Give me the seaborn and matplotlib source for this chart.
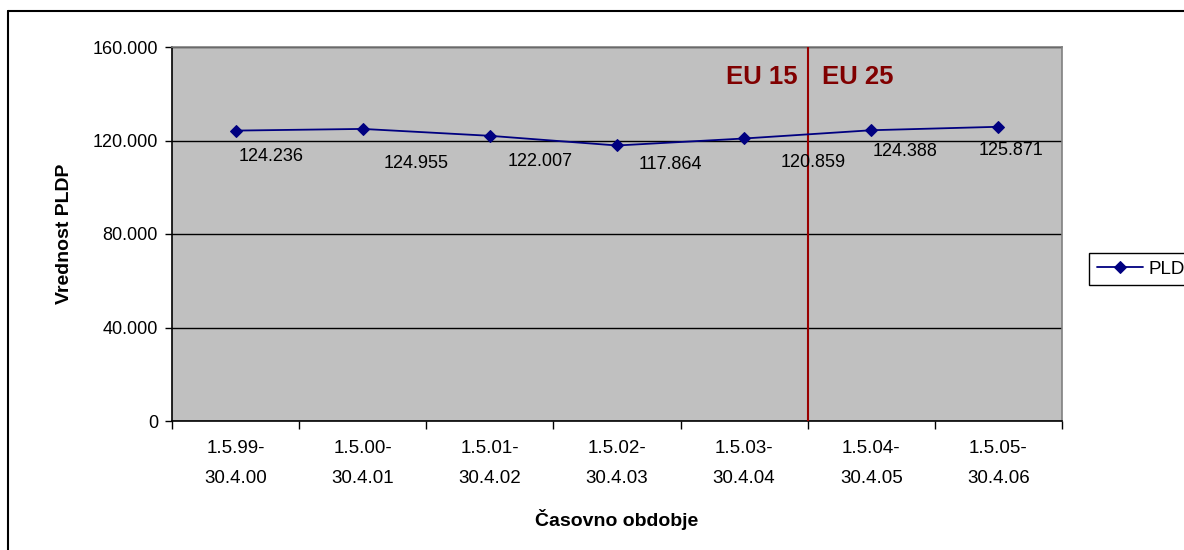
import matplotlib
matplotlib.use("Agg")
import matplotlib.pyplot as plt
import seaborn as sns
import pandas as pd
from matplotlib.lines import Line2D

categories = ["1.5.99-\n30.4.00", "1.5.00-\n30.4.01", "1.5.01-\n30.4.02",
              "1.5.02-\n30.4.03", "1.5.03-\n30.4.04", "1.5.04-\n30.4.05",
              "1.5.05-\n30.4.06"]
pldp_values = [124236, 124955, 122007, 117864, 120859, 124388, 125871]
y_ticks = [0, 40000, 80000, 120000, 160000]
series_name = "PLDP"

# label offsets in pixels (dx, dy downwards)
label_offsets = [(36, 26), (53, 35), (50, 26), (53, 19), (69, 24), (34, 21), (13, 24)]

def fmt(v):
    return f"{v:,}".replace(",", ".")

sns.set_theme(style="white")
plt.rcParams['font.family'] = ['Liberation Sans', 'DejaVu Sans']
plt.rcParams['text.color'] = 'black'
plt.rcParams['axes.labelcolor'] = 'black'
plt.rcParams['xtick.color'] = 'black'
plt.rcParams['ytick.color'] = 'black'

fig = plt.figure(figsize=(11.84, 5.5), dpi=100)
ax = fig.add_axes([172/1184, 1-421/550, (1062-172)/1184, (421-47)/550])
ax.set_facecolor("#C0C0C0")

df = pd.DataFrame({"idx": list(range(len(categories))), "val": pldp_values})
sns.lineplot(data=df, x="idx", y="val", ax=ax, color="#000080", marker="D",
             markersize=6.5, markeredgecolor="#000080", linewidth=1.3,
             label=series_name, zorder=4)

for i, v in enumerate(pldp_values):
    dx, dy = label_offsets[i]
    ax.annotate(fmt(v), (i, v), xytext=(dx*0.72, -dy*0.72), textcoords="offset points",
                ha="center", va="center", fontsize=13, color="black", zorder=5)

ax.set_xlim(-0.5, len(categories) - 0.5)
ax.set_ylim(0, 160000)
ax.set_yticks(y_ticks)
ax.set_yticklabels([fmt(t) for t in y_ticks], fontsize=13)
ax.yaxis.grid(True, color="black", linewidth=1)
ax.xaxis.grid(False)
ax.set_axisbelow(True)

ax.set_xticks([i - 0.5 for i in range(len(categories) + 1)])
ax.set_xticklabels([])
ax.set_xticks(list(range(len(categories))), minor=True)
ax.set_xticklabels(categories, minor=True, fontsize=13.5, linespacing=2.0)
ax.tick_params(axis="x", which="major", direction="out", length=6, width=1, color="black", bottom=True)
ax.tick_params(axis="x", which="minor", length=0, pad=13.5)
ax.tick_params(axis="y", which="major", direction="out", length=5, width=1, color="black", left=True, pad=5)

for s in ["left", "bottom"]:
    ax.spines[s].set_color("black")
    ax.spines[s].set_linewidth(1.2)
for s in ["top", "right"]:
    ax.spines[s].set_color("#808080")
    ax.spines[s].set_linewidth(1.2)

ax.axvline(4.5, color="#990000", linewidth=1.5, zorder=3)
ax.text(4.42, 147000, "EU 15", color="#800000", fontsize=18.5, fontweight="bold",
        ha="right", va="center")
ax.text(4.61, 147000, "EU 25", color="#800000", fontsize=18.5, fontweight="bold",
        ha="left", va="center")

ax.set_ylabel("Vrednost PLDP", fontsize=14, fontweight="bold", labelpad=14)
ax.set_xlabel("Časovno obdobje", fontsize=14, fontweight="bold", labelpad=16)

ax.legend(loc="center left", bbox_to_anchor=(1089/1184, 1-269/550),
          bbox_transform=fig.transFigure, frameon=True, fancybox=False,
          edgecolor="black", fontsize=13.5, handlelength=2.5, handletextpad=0.3,
          borderpad=0.4, borderaxespad=0, framealpha=1)
ax.get_legend().get_frame().set_linewidth(1.0)

fig.add_artist(Line2D([8/1184, 8/1184], [0, 1-11/550], transform=fig.transFigure,
                      color="black", linewidth=1.5))
fig.add_artist(Line2D([8/1184, 1], [1-11/550, 1-11/550], transform=fig.transFigure,
                      color="black", linewidth=1.5))

fig.savefig("out.png", dpi=100)
